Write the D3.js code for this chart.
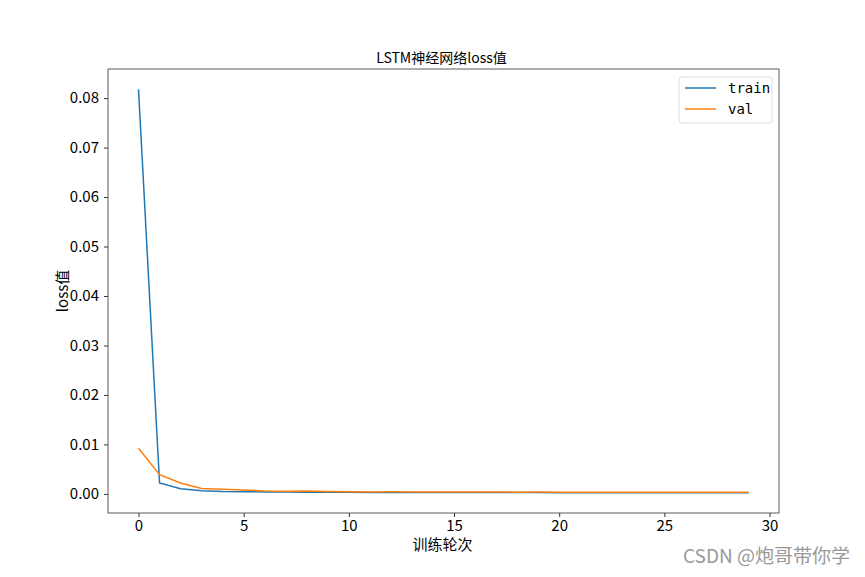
<!DOCTYPE html>
<html><head><meta charset="utf-8">
<script src="https://cdn.jsdelivr.net/npm/d3@7"></script>
<style>body{margin:0;background:#fff}svg{display:block}</style>
</head><body>
<script>
const epochs = d3.range(0, 30);
const trainLoss = [0.0818,0.0022,0.00105,0.00065,0.0005,0.00045,0.0004,0.00038,0.00035,0.00033,0.00032,0.0003,0.0003,0.00029,0.00028,0.00028,0.00027,0.00027,0.00026,0.00026,0.00025,0.00025,0.00025,0.00024,0.00024,0.00024,0.00023,0.00023,0.00023,0.00022];
const valLoss = [0.00924,0.0039,0.0022,0.0011,0.00095,0.0008,0.0006,0.00055,0.0006,0.0005,0.00045,0.0004,0.00042,0.0004,0.00038,0.0004,0.00037,0.00038,0.00036,0.00038,0.00035,0.00036,0.00034,0.00033,0.00035,0.00034,0.00033,0.00035,0.00034,0.00036];
const xTicks = [0,5,10,15,20,25,30];
const yTicks = [0,0.01,0.02,0.03,0.04,0.05,0.06,0.07,0.08];
const seriesNames = ["train","val"];
const colors = ["#1f77b4","#ff7f0e"];

const W=865,H=577;
const m={l:108,t:69,r:779,b:513};
const font = "'Noto Sans CJK SC', sans-serif";
const svg=d3.select("body").append("svg").attr("width",W).attr("height",H);

const all=trainLoss.concat(valLoss);
const ymin=d3.min(all), ymax=d3.max(all), yr=ymax-ymin;
const x=d3.scaleLinear().domain([-1.45,30.45]).range([m.l,m.r]);
const y=d3.scaleLinear().domain([ymin-0.05*yr, ymax+0.05*yr]).range([m.b,m.t]);

const xa=svg.append("g").attr("transform",`translate(0,${m.b})`)
  .call(d3.axisBottom(x).tickValues(xTicks).tickSize(4).tickPadding(3).tickFormat(d3.format("d")));
const ya=svg.append("g").attr("transform",`translate(${m.l},0)`)
  .call(d3.axisLeft(y).tickValues(yTicks).tickSize(4).tickPadding(5).tickFormat(d3.format(".2f")));
[xa,ya].forEach(a=>{a.select(".domain").remove();a.selectAll("line").attr("stroke","#000").attr("stroke-width",0.8);
  a.selectAll("text").attr("font-family",font).attr("font-size",15).attr("fill","#000");});

const line=d3.line().x((d,i)=>x(epochs[i])).y(d=>y(d));
[trainLoss,valLoss].forEach((s,k)=>{
  svg.append("path").datum(s).attr("d",line).attr("fill","none").attr("stroke",colors[k]).attr("stroke-width",1.5);
});

svg.append("rect").attr("x",m.l).attr("y",m.t).attr("width",m.r-m.l).attr("height",m.b-m.t)
  .attr("fill","none").attr("stroke","#333").attr("stroke-width",0.8);

svg.append("text").attr("x",(m.l+m.r)/2-2).attr("y",m.t-6).attr("text-anchor","middle")
  .attr("font-family",font).attr("font-size",14).text("LSTM神经网络loss值");
svg.append("text").attr("x",(m.l+m.r)/2-1).attr("y",550).attr("text-anchor","middle")
  .attr("font-family",font).attr("font-size",15).text("训练轮次");
svg.append("text").attr("transform",`translate(68,${(m.t+m.b)/2}) rotate(-90)`).attr("text-anchor","middle")
  .attr("font-family",font).attr("font-size",15).text("loss值");

const lg=svg.append("g");
lg.append("rect").attr("x",679).attr("y",77).attr("width",93).attr("height",46).attr("rx",3)
  .attr("fill","#fff").attr("stroke","#ddd").attr("stroke-width",1);
seriesNames.forEach((n,i)=>{
  const yy=88+i*21;
  lg.append("line").attr("x1",685).attr("x2",716).attr("y1",yy).attr("y2",yy).attr("stroke",colors[i]).attr("stroke-width",1.5);
  lg.append("text").attr("x",728).attr("y",yy+5).attr("font-family","'DejaVu Sans Mono', monospace").attr("font-size",14).text(n);
});

svg.append("text").attr("x",850).attr("y",563).attr("text-anchor","end").attr("font-family",font)
  .attr("font-size",19).attr("fill","#999").text("CSDN @炮哥带你学");
</script>
</body></html>
